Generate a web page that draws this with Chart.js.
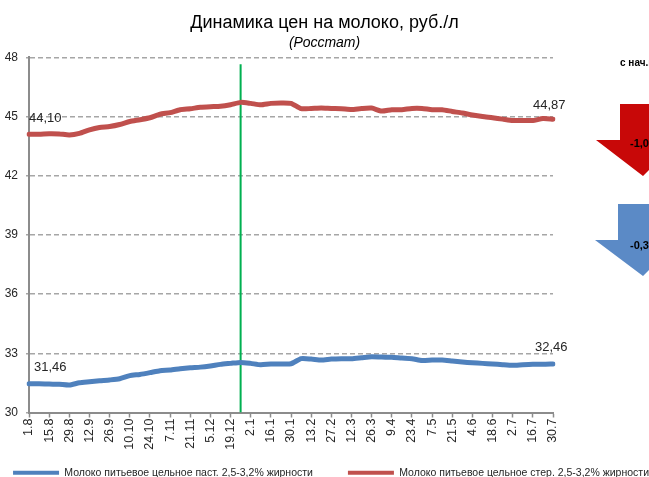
<!DOCTYPE html>
<html>
<head>
<meta charset="utf-8">
<style>
html, body { margin: 0; padding: 0; background: #fff; overflow: hidden; }
#wrap { width: 649px; height: 477px; }
</style>
<script src="https://cdn.jsdelivr.net/npm/chart.js@4/dist/chart.umd.min.js"></script>
</head>
<body>
<div id="wrap"><canvas id="chart" width="649" height="477"></canvas></div>
<script>
const categories = ['1.8','8.8','15.8','22.8','29.8','5.9','12.9','19.9','26.9','3.10','10.10','17.10','24.10','31.10','7.11','14.11','21.11','28.11','5.12','12.12','19.12','26.12','2.1','9.1','16.1','23.1','30.1','6.2','13.2','20.2','27.2','5.3','12.3','19.3','26.3','2.4','9.4','16.4','23.4','30.4','7.5','14.5','21.5','28.5','4.6','11.6','18.6','25.6','2.7','9.7','16.7','23.7','30.7'];
const pastValues = [31.46,31.46,31.44,31.43,31.39,31.51,31.56,31.61,31.65,31.71,31.87,31.93,32.02,32.12,32.15,32.22,32.27,32.30,32.36,32.44,32.49,32.54,32.49,32.42,32.46,32.46,32.47,32.73,32.71,32.66,32.71,32.73,32.73,32.78,32.83,32.81,32.80,32.76,32.73,32.64,32.66,32.66,32.61,32.56,32.52,32.49,32.46,32.42,32.39,32.42,32.44,32.44,32.46];
const sterValues = [44.10,44.10,44.13,44.12,44.07,44.15,44.33,44.45,44.50,44.60,44.75,44.84,44.94,45.12,45.20,45.35,45.40,45.47,45.50,45.52,45.60,45.72,45.67,45.60,45.67,45.69,45.67,45.40,45.41,45.43,45.41,45.40,45.36,45.41,45.43,45.28,45.35,45.35,45.41,45.41,45.35,45.35,45.26,45.18,45.08,45.00,44.94,44.87,44.80,44.80,44.80,44.90,44.87];
const markerCategory = '26.12';
const markerValues = [30, 47.65];
const pastName = 'Молоко питьевое цельное паст. 2,5-3,2% жирности';
const sterName = 'Молоко питьевое цельное стер. 2,5-3,2% жирности';
const sans = '"Liberation Sans", sans-serif';

// подписи значений у концов линий
const endLabels = {
    id: 'endLabels',
    afterDatasetsDraw(chart) {
        const { ctx } = chart;
        const put = (ds, i, text, dx, dy) => {
            const p = chart.getDatasetMeta(ds).data[i];
            ctx.fillText(text, p.x + dx, p.y + dy);
        };
        ctx.save();
        ctx.font = '13px ' + sans;
        ctx.fillStyle = '#262626';
        ctx.textBaseline = 'middle';
        ctx.textAlign = 'left';
        put(0, 0, '31,46', 5, -16);
        put(1, 0, '44,10', 0, -16);
        put(0, 52, '32,46', -18, -17);
        put(1, 52, '44,87', -20, -14);
        ctx.restore();
    }
};

// стрелки справа, обрезаны краем картинки
const sideArrows = {
    id: 'sideArrows',
    afterDraw(chart) {
        const { ctx } = chart;
        const arrow = (color, top, shaftX, leftX, notchY, tipY, text, textY) => {
            ctx.fillStyle = color;
            ctx.beginPath();
            ctx.moveTo(shaftX, top);
            ctx.lineTo(649, top);
            ctx.lineTo(649, tipY - 6);
            ctx.lineTo(643, tipY);
            ctx.lineTo(leftX, notchY);
            ctx.lineTo(shaftX, notchY);
            ctx.closePath();
            ctx.fill();
            ctx.fillStyle = '#000';
            ctx.font = 'bold 11px ' + sans;
            ctx.textBaseline = 'middle';
            ctx.fillText(text, 630, textY);
        };
        ctx.save();
        ctx.textAlign = 'left';
        arrow('#c80808', 104, 620, 596, 140, 176, '-1,0', 144);
        arrow('#5b8ac6', 204, 618, 595, 240, 276, '-0,3', 246);
        ctx.fillStyle = '#000';
        ctx.font = 'bold 10px ' + sans;
        ctx.textBaseline = 'middle';
        ctx.fillText('с нач.г', 620, 63);
        ctx.restore();
    }
};

// промежуток между пунктами легенды: неразрывные пробелы после первого
function legendItems(chart) {
    const items = Chart.defaults.plugins.legend.labels.generateLabels(chart);
    items.forEach(item => { item.lineWidth = 0; });
    items[0].text += '\u00a0'.repeat(12);
    return items;
}

const config = {
    type: 'line',
    data: {
        labels: categories,
        datasets: [
            { label: pastName, data: pastValues, borderColor: '#4f81bd', backgroundColor: '#4f81bd', borderWidth: 5, pointRadius: 0, tension: 0.2, borderCapStyle: 'round' },
            { label: sterName, data: sterValues, borderColor: '#c0504d', backgroundColor: '#c0504d', borderWidth: 5, pointRadius: 0, tension: 0.2, borderCapStyle: 'round' },
            { label: 'marker', data: markerValues.map(v => ({ x: markerCategory, y: v })), borderColor: '#00b050', borderWidth: 2, pointRadius: 0 }
        ]
    },
    options: {
        responsive: false,
        animation: false,
        layout: { padding: { bottom: -11 } },
        plugins: {
            title: {
                display: true,
                text: 'Динамика цен на молоко, руб./л',
                color: '#000',
                font: { family: sans, size: 18, weight: 'normal' },
                padding: { top: 12, bottom: 0 }
            },
            subtitle: {
                display: true,
                text: '(Росстат)',
                color: '#000',
                font: { family: sans, size: 14, style: 'italic', weight: 'normal' },
                padding: { top: 1, bottom: 6 }
            },
            legend: {
                position: 'bottom',
                align: 'end',
                labels: {
                    generateLabels: legendItems,
                    filter: item => item.text !== 'marker',
                    boxWidth: 46,
                    boxHeight: 4,
                    padding: 0,
                    color: '#262626',
                    font: { family: sans, size: 10.5 }
                }
            }
        },
        scales: {
            x: {
                ticks: {
                    autoSkip: false,
                    minRotation: 90,
                    maxRotation: 90,
                    padding: 1,
                    color: '#262626',
                    font: { family: sans, size: 12.5 },
                    callback(value, index) { return index % 2 ? '' : this.getLabelForValue(value); }
                },
                grid: {
                    drawOnChartArea: false,
                    tickLength: 5,
                    tickColor: ctx => ctx.index % 2 ? 'transparent' : '#8c8c8c',
                    tickWidth: 1.5
                },
                border: { color: '#8c8c8c', width: 2 },
                afterFit(scale) { scale.height = 55; }
            },
            y: {
                min: 30,
                max: 48,
                ticks: { stepSize: 3, padding: 8, color: '#262626', font: { family: sans, size: 12 } },
                grid: { color: '#a6a6a6', lineWidth: 1.5, tickLength: 3, tickColor: '#a6a6a6' },
                border: { color: '#8c8c8c', width: 2, dash: [5, 3] },
                afterFit(scale) { scale.width = 29; }
            },
            right: {
                position: 'right',
                min: 30,
                max: 48,
                ticks: { display: false },
                grid: { display: false },
                border: { display: false },
                afterFit(scale) { scale.width = 96; }
            }
        }
    },
    plugins: [endLabels, sideArrows]
};

new Chart(document.getElementById('chart'), config);
</script>
</body>
</html>
